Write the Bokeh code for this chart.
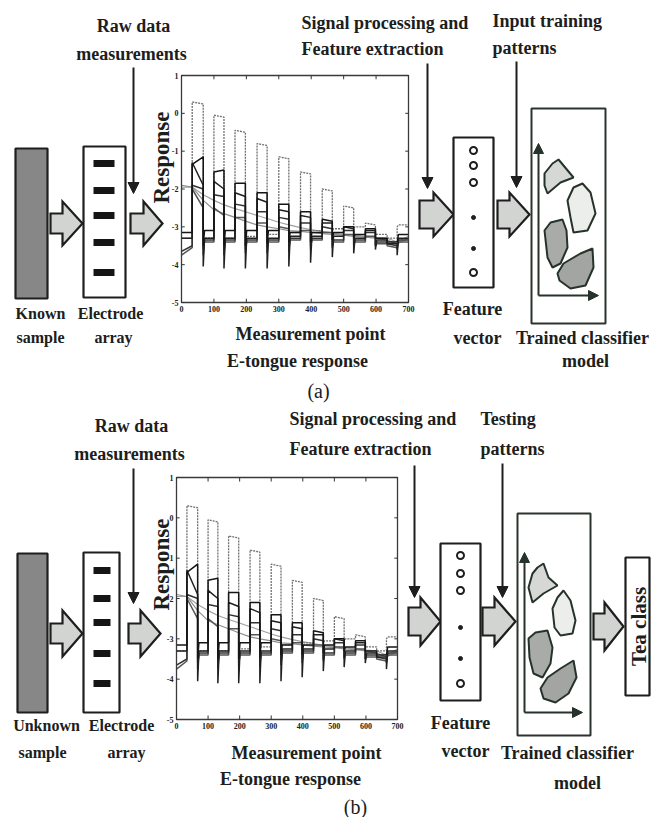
from bokeh.plotting import figure
from bokeh.models import Range1d, Arrow, NormalHead
from bokeh.core.properties import value
from bokeh.embed import file_html
from bokeh.resources import INLINE
import math

# ---------------- data: E-tongue response curves ----------------
x_ticks = [0, 100, 200, 300, 400, 500, 600, 700]
x_tick_labels = ["0", "100", "200", "300", "400", "500", "600", "700"]
y_ticks = [1, 0, -1, -2, -3, -4, -5]
y_tick_labels = ["1", "0", "-1", "-2", "-3", "-4", "-5"]

pulse_on = [33, 100, 165, 233, 300, 367, 434, 500, 567, 634]
pulse_off = [67, 131, 197, 264, 331, 398, 465, 531, 598, 665]

# dotted light trace (large pulses)
t1_lo = [-3.3, -3.3, -3.3, -3.25, -3.2, -3.15, -3.1, -3.05, -3.0, -3.2, -2.95]
t1_hi_a = [0.3, -0.05, -0.45, -0.8, -1.15, -1.55, -2.0, -2.45, -2.9, -3.3]
t1_hi_b = [0.25, -0.1, -0.5, -0.85, -1.2, -1.6, -2.05, -2.5, -2.95, -3.3]
t1_dip = [-3.3, -3.35, -3.35, -3.3, -3.25, -3.2, -3.15, -3.1, -3.05, -3.2, -3.0]

# dark traces
t2_lo = [-3.15, -3.1, -3.1, -3.1, -3.1, -3.15, -3.15, -3.15, -3.2, -3.3, -3.2]
t2_hi_a = [-1.35, -1.55, -1.85, -2.1, -2.4, -2.6, -2.8, -3.0, -3.05, -3.4]
t2_hi_b = [-1.15, -1.5, -1.85, -2.1, -2.4, -2.6, -2.85, -3.0, -3.05, -3.4]
t2_dip = [-3.15, -3.5, -3.5, -3.5, -3.45, -3.4, -3.4, -3.35, -3.3, -3.3, -3.4]

t3_lo = [-3.3, -3.3, -3.3, -3.3, -3.3, -3.25, -3.25, -3.25, -3.3, -3.35, -3.3]
t3_hi_a = [-1.3, -1.8, -2.1, -2.25, -2.55, -2.7, -2.9, -3.0, -3.1, -3.45]
t3_hi_b = [-1.9, -2.0, -2.2, -2.35, -2.6, -2.75, -2.9, -3.05, -3.1, -3.45]
t3_dip = [-3.3, -4.05, -4.1, -4.1, -4.1, -4.05, -3.95, -3.8, -3.7, -3.6, -3.75]

t4_lo = [-3.5, -3.35, -3.35, -3.35, -3.35, -3.3, -3.3, -3.35, -3.35, -3.4, -3.35]
t4_hi_a = [-1.9, -2.15, -2.4, -2.6, -2.75, -2.9, -3.0, -3.1, -3.15, -3.45]
t4_hi_b = [-2.0, -2.2, -2.45, -2.6, -2.8, -2.9, -3.05, -3.1, -3.15, -3.5]
t4_dip = [-3.65, -3.75, -3.75, -3.7, -3.7, -3.65, -3.6, -3.55, -3.5, -3.5, -3.6]

t5_lo = [-3.55, -3.4, -3.4, -3.4, -3.4, -3.35, -3.35, -3.4, -3.4, -3.45, -3.4]
t5_hi_a = [-2.0, -2.5, -2.75, -2.9, -3.0, -3.1, -3.15, -3.2, -3.25, -3.5]
t5_hi_b = [-2.5, -2.7, -2.75, -2.9, -3.05, -3.1, -3.15, -3.2, -3.25, -3.55]
t5_dip = [-3.75, -3.6, -3.6, -3.6, -3.55, -3.55, -3.5, -3.5, -3.45, -3.5, -3.55]

# slowly drifting gray traces
drift_x = [0, 33, 67, 100, 131, 165, 197, 233, 264, 300, 331, 367, 398, 434, 465,
           500, 531, 567, 598, 634, 665, 700]
drift1_y = [-1.95, -1.95, -2.15, -2.3, -2.42, -2.52, -2.6, -2.7, -2.78, -2.88, -2.95,
            -3.02, -3.07, -3.12, -3.16, -3.2, -3.22, -3.25, -3.28, -3.3, -3.4, -3.25]
drift2_y = [-1.9, -1.95, -2.3, -2.55, -2.65, -2.75, -2.85, -2.95, -3.0, -3.05, -3.1,
            -3.12, -3.15, -3.18, -3.2, -3.22, -3.25, -3.27, -3.3, -3.35, -3.45, -3.3]

# ---------------- styling / layout constants ----------------
FONT = value("Liberation Serif")
TXT = "#1b201c"
EDGE = "#1e1e1e"

p = figure(width=656, height=817, x_range=Range1d(0, 656), y_range=Range1d(817, 0),
           x_axis_type=None, y_axis_type=None, toolbar_location=None,
           output_backend="svg", min_border=0, outline_line_color=None,
           background_fill_color="white")
p.grid.visible = False


def label(x, y, texts, size=18, align="center", bold=True, angle=0.0):
    p.text(x=x, y=y, text=texts, text_font=FONT, text_font_size=f"{size}px",
           text_font_style="bold" if bold else "normal", text_color=TXT,
           text_align=align, text_baseline="middle", angle=angle)


def block_arrow(x0, xh, x1, yc, bh, hh):
    xs = [x0, xh, xh, x1, xh, xh, x0]
    ys = [yc - bh, yc - bh, yc - hh, yc, yc + hh, yc + bh, yc + bh]
    p.patch(xs, ys, fill_color="#d2d4d2", line_color=EDGE, line_width=2.2,
            line_join="miter")


def down_arrow(x, y0, y1):
    p.add_layout(Arrow(end=NormalHead(size=11, fill_color=EDGE, line_color=EDGE),
                       x_start=x, y_start=y0, x_end=x, y_end=y1,
                       line_width=2, line_color=EDGE))


def build(lo, hi_a, hi_b, dip):
    xs, ys = [0, pulse_on[0]], [dip[0], lo[0]]
    for i in range(len(pulse_on)):
        xs += [pulse_on[i], pulse_off[i]]
        ys += [hi_a[i], hi_b[i]]
        end = pulse_on[i + 1] if i + 1 < len(pulse_on) else 700
        xs += [pulse_off[i], pulse_off[i] + 4, end]
        ys += [dip[i + 1], lo[i + 1], lo[i + 1]]
    return xs, ys


def chart(left, right, top, bottom):
    sub = p.subplot(x_source=Range1d(0, 700), y_source=Range1d(-5, 1),
                    x_target=Range1d(left, right), y_target=Range1d(bottom, top))
    sub.line(drift_x, drift1_y, line_color="#a0a0a0", line_width=1.2)
    sub.line(drift_x, drift2_y, line_color="#8e8e8e", line_width=1.2)
    xs, ys = build(t1_lo, t1_hi_a, t1_hi_b, t1_dip)
    sub.line(xs, ys, line_color="#707070", line_width=1.3, line_dash="2 1")
    for lo, ha, hb, dp, col in [(t5_lo, t5_hi_a, t5_hi_b, t5_dip, "#555555"),
                                (t4_lo, t4_hi_a, t4_hi_b, t4_dip, "#333333"),
                                (t3_lo, t3_hi_a, t3_hi_b, t3_dip, "#202020"),
                                (t2_lo, t2_hi_a, t2_hi_b, t2_dip, "#151515")]:
        xs, ys = build(lo, ha, hb, dp)
        sub.line(xs, ys, line_color=col, line_width=1.5)
    # frame and inward ticks
    sub.quad(left=[0], right=[700], bottom=[-5], top=[1], fill_alpha=0,
             line_color="#3a3a3a", line_width=1.3)
    n = len(x_ticks)
    sub.segment(x0=x_ticks, x1=x_ticks, y0=[-5] * n, y1=[-4.9] * n, line_color="#333", line_width=1)
    sub.segment(x0=x_ticks, x1=x_ticks, y0=[1] * n, y1=[0.9] * n, line_color="#333", line_width=1)
    m = len(y_ticks)
    sub.segment(x0=[0] * m, x1=[10] * m, y0=y_ticks, y1=y_ticks, line_color="#333", line_width=1)
    sub.segment(x0=[700] * m, x1=[690] * m, y0=y_ticks, y1=y_ticks, line_color="#333", line_width=1)
    sub.text(x=x_ticks, y=[-5] * n, text=x_tick_labels, text_font=FONT,
             text_font_size="8px", text_font_style="bold", text_color="#222222",
             text_align="center", text_baseline="top", y_offset=3)
    sub.text(x=[0] * m, y=y_ticks, text=y_tick_labels, text_font=FONT,
             text_font_size="8px", text_font_style="bold", text_color="#222222",
             text_align="right", text_baseline="middle", x_offset=-3)


def classifier(bx0, bx1, by0, by1, ax, ay_bot, ay_top, ax_right, blobs):
    p.quad(left=[bx0], right=[bx1], top=[by0], bottom=[by1], fill_color="white",
           line_color="#2b352d", line_width=2)
    fills = ["#d6d8d6", "#eceeec", "#a9aba9", "#a3a5a3"]
    for (bxs, bys), fc in zip(blobs, fills):
        p.patch(bxs, bys, fill_color=fc, line_color="#26332a", line_width=2)
    head = dict(size=10, fill_color="#26332a", line_color="#26332a")
    p.add_layout(Arrow(end=NormalHead(**head), x_start=ax, y_start=ay_bot, x_end=ax,
                       y_end=ay_top, line_width=2, line_color="#26332a"))
    p.add_layout(Arrow(end=NormalHead(**head), x_start=ax, y_start=ay_bot, x_end=ax_right,
                       y_end=ay_bot, line_width=2, line_color="#26332a"))


def panel(d):
    label([d["raw_x"][0], d["raw_x"][1]], d["raw_y"], ["Raw data", "measurements"])
    down_arrow(133, d["raw_arrow"][0], d["raw_arrow"][1])
    sx0, sx1, sy0, sy1 = d["sample"]
    p.quad(left=[sx0], right=[sx1], top=[sy0], bottom=[sy1], fill_color="#878787",
           line_color=EDGE, line_width=2.2)
    ex0, ex1, ey0, ey1 = d["elec"]
    p.quad(left=[ex0], right=[ex1], top=[ey0], bottom=[ey1], fill_color="white",
           line_color=EDGE, line_width=2.2)
    bx0, bx1 = d["bars_x"]
    p.quad(left=[bx0] * 5, right=[bx1] * 5, top=[y - 3.5 for y in d["bars_y"]],
           bottom=[y + 3.5 for y in d["bars_y"]], fill_color="#151515", line_color=None)
    for a in d["barrows"]:
        block_arrow(*a)
    label(d["lab_x"], d["lab_y"], d["lab_t"], size=d["lab_size"])
    chart(*d["chart"])
    label([161], [d["resp_y"]], ["Response"], size=23, angle=math.pi / 2)
    label(d["mp_x"], d["mp_y"], ["Measurement point", "E-tongue response"])
    label([d["cap"][0]], [d["cap"][1]], [d["cap"][2]], size=20, bold=False)
    label([d["sp_x"]] * 2, d["sp_y"], ["Signal processing and", "Feature extraction"],
          align="left")
    down_arrow(d["sp_arrow"][0], d["sp_arrow"][1], d["sp_arrow"][2])
    fx0, fx1, fy0, fy1 = d["fvec"]
    p.quad(left=[fx0], right=[fx1], top=[fy0], bottom=[fy1], fill_color="white",
           line_color=EDGE, line_width=2.2)
    cx = (fx0 + fx1) / 2
    p.scatter([cx] * 4, d["circ_y"], marker="circle", size=7, fill_color="white",
              line_color=EDGE, line_width=2)
    p.scatter([cx] * 2, d["dot_y"], marker="circle", size=4, fill_color=EDGE,
              line_color=EDGE)
    label(d["fv_x"], d["fv_y"], ["Feature", "vector"])
    label([d["tp_x"]] * 2, d["tp_y"], d["tp_t"], align="left")
    down_arrow(d["tp_arrow"][0], d["tp_arrow"][1], d["tp_arrow"][2])
    classifier(*d["clf"], d["blobs"])
    label(d["tc_x"], d["tc_y"], ["Trained classifier", "model"])


panel_a = dict(
    raw_x=[133, 131], raw_y=[25, 53], raw_arrow=(67, 193),
    sample=(15, 47, 148, 298), elec=(83, 125, 146, 297), bars_x=(93, 114),
    bars_y=[163, 190, 215, 242, 272],
    barrows=[(50, 62, 82, 223, 10, 22), (130, 143, 162, 223, 10, 22),
             (419, 433, 453, 214, 14, 22), (497, 509, 529, 214, 14, 22)],
    lab_x=[40, 40, 110, 113], lab_y=[313, 337, 313, 337],
    lab_t=["Known", "sample", "Electrode", "array"], lab_size=16,
    chart=(181, 408, 75, 302), resp_y=157,
    mp_x=[310, 297], mp_y=[333, 360], cap=(318, 390, "(a)"),
    sp_x=301, sp_y=[22, 48], sp_arrow=(427, 63, 188),
    fvec=(453, 493, 137, 287), circ_y=[150, 165, 182, 272], dot_y=[217, 248],
    fv_x=[472, 477], fv_y=[308, 337],
    tp_x=492, tp_y=[20, 47], tp_t=["Input training", "patterns"], tp_arrow=(516, 61, 187),
    clf=(531, 605, 108, 323, 538, 295, 143, 598),
    blobs=[([544, 552, 558, 563, 573, 560, 547, 544], [173, 163, 159, 165, 177, 182, 193, 185]),
           ([567, 573, 582, 590, 595, 587, 573, 570], [200, 187, 183, 192, 213, 230, 232, 217]),
           ([544, 550, 562, 566, 567, 560, 552, 547], [230, 222, 219, 230, 247, 263, 267, 257]),
           ([557, 563, 580, 592, 593, 585, 570, 559], [273, 263, 253, 248, 267, 285, 288, 280])],
    tc_x=[582, 585], tc_y=[337, 360],
)

panel_b = dict(
    raw_x=[131, 129], raw_y=[425, 453], raw_arrow=(468, 603),
    sample=(17, 47, 553, 712), elec=(83, 119, 552, 712), bars_x=(93, 110),
    bars_y=[570, 598, 622, 653, 683],
    barrows=[(50, 62, 82, 633, 10, 23), (128, 140, 160, 633, 10, 23),
             (408, 420, 440, 621, 14, 24), (482, 494, 515, 621, 14, 24),
             (593, 604, 623, 626, 13, 24)],
    lab_x=[46, 42, 121, 126], lab_y=[725, 752, 725, 752],
    lab_t=["Unknown", "sample", "Electrode", "array"], lab_size=16,
    chart=(176, 397, 477, 719), resp_y=564,
    mp_x=[306, 290], mp_y=[752, 778], cap=(355, 806, "(b)"),
    sp_x=289, sp_y=[418, 448], sp_arrow=(414, 465, 597),
    fvec=(440, 480, 543, 700), circ_y=[555, 573, 590, 683], dot_y=[627, 658],
    fv_x=[460, 465], fv_y=[722, 750],
    tp_x=480, tp_y=[418, 448], tp_t=["Testing", "patterns"], tp_arrow=(502, 463, 597),
    clf=(517, 590, 513, 735, 524, 712, 552, 582),
    blobs=[([528, 532, 537, 543, 548, 557, 543, 532], [587, 573, 567, 563, 577, 585, 593, 602]),
           ([552, 557, 563, 570, 575, 572, 560, 554], [608, 597, 590, 600, 620, 633, 635, 627]),
           ([528, 535, 547, 552, 550, 542, 533, 529], [638, 632, 630, 647, 663, 677, 673, 657]),
           ([540, 547, 560, 573, 576, 568, 555, 543], [688, 677, 668, 660, 677, 693, 702, 698])],
    tc_x=[567, 577], tc_y=[752, 782],
)

panel(panel_a)
panel(panel_b)

# Tea class output box (panel b)
p.quad(left=[625], right=[649], top=[557], bottom=[695], fill_color="white",
       line_color=EDGE, line_width=2.2)
label([638], [626], ["Tea class"], size=21, angle=math.pi / 2)

open("out.html", "w").write(file_html(p, INLINE))
